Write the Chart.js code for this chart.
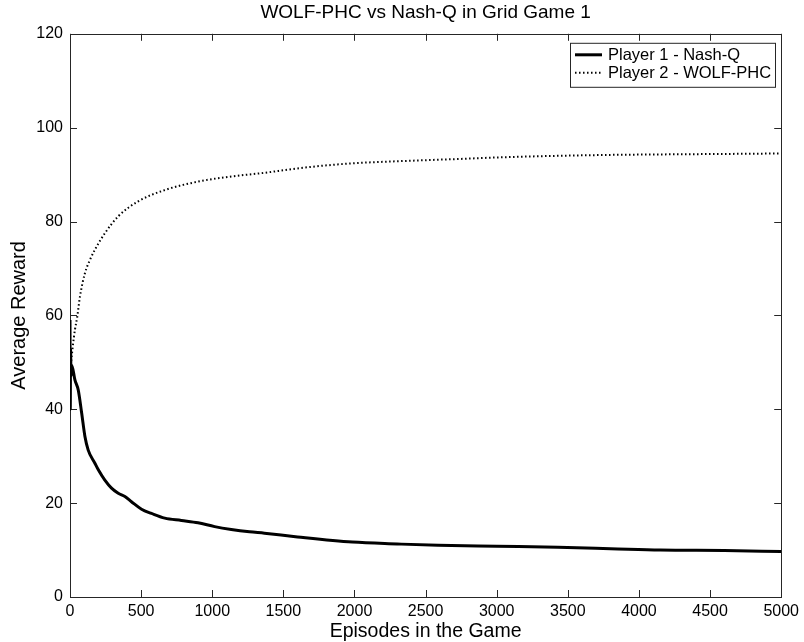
<!DOCTYPE html>
<html lang="en">
<head>
<meta charset="UTF-8">
<title>WOLF-PHC vs Nash-Q</title>
<script src="https://cdn.jsdelivr.net/npm/chart.js@4.4.1/dist/chart.umd.min.js"></script>
<style>
  html, body { margin: 0; padding: 0; background: #fff; }
  #wrap { width: 804px; height: 642px; }
</style>
</head>
<body>
<div id="wrap"><canvas id="c"></canvas></div>
<script>
// values
const nashEpisodes = [0, 2, 4, 7, 12, 35, 58, 82, 105, 128, 175, 199, 245, 292, 339, 386, 432, 503, 573, 666, 783, 900, 1017, 1134, 1262, 1367, 1600, 1985, 2300, 2588, 3000, 3430, 3800, 4150, 4600, 5000];
const nashReward   = [59, 40, 53, 47, 49.4, 46.2, 44.1, 39.2, 34.2, 31.3, 28.5, 27.1, 24.9, 23.2, 22.1, 21.4, 20.3, 18.7, 17.8, 16.8, 16.3, 15.8, 15.0, 14.4, 13.9, 13.6, 12.8, 11.7, 11.3, 11.0, 10.8, 10.6, 10.3, 10.0, 9.9, 9.7];

const wolfEpisodes = [0, 3, 8, 20, 35, 50, 70, 105, 140, 175, 245, 339, 479, 666, 900, 1134, 1344, 1650, 1985, 2350, 2707, 3050, 3430, 3800, 4150, 4600, 5000];
const wolfReward   = [46, 48, 50, 53.5, 57, 59.5, 64, 69, 71.8, 74, 77.5, 81.1, 84.3, 86.7, 88.5, 89.6, 90.3, 91.5, 92.4, 92.9, 93.3, 93.7, 94.0, 94.2, 94.3, 94.4, 94.5];

const seriesNames = ['Player 1 - Nash-Q', 'Player 2 - WOLF-PHC'];
const xTicks = [0, 500, 1000, 1500, 2000, 2500, 3000, 3500, 4000, 4500, 5000];
const yTicks = [0, 20, 40, 60, 80, 100, 120];

const FONT = "'Liberation Sans', Arial, Helvetica, sans-serif";
const AXIS = '#262626';

// box round the axes with inward ticks on all four sides, MATLAB style
const frame = {
  id: 'frame',
  beforeDatasetsDraw(chart) {
    const { ctx, chartArea: a, scales: { x, y } } = chart;
    const len = 7;
    ctx.save();
    ctx.strokeStyle = AXIS;
    ctx.lineWidth = 1;
    ctx.beginPath();
    xTicks.forEach(v => {
      const px = Math.round(x.getPixelForValue(v)) + 0.5;
      ctx.moveTo(px, a.bottom); ctx.lineTo(px, a.bottom - len);
      ctx.moveTo(px, a.top); ctx.lineTo(px, a.top + len);
    });
    yTicks.forEach(v => {
      const py = Math.round(y.getPixelForValue(v)) + 0.5;
      ctx.moveTo(a.left, py); ctx.lineTo(a.left + len, py);
      ctx.moveTo(a.right, py); ctx.lineTo(a.right - len, py);
    });
    ctx.stroke();
    ctx.strokeRect(Math.round(a.left) + 0.5, Math.round(a.top) + 0.5,
                   Math.round(a.right - a.left), Math.round(a.bottom - a.top));
    ctx.restore();
  }
};

// legend box inside the top right corner
const boxLegend = {
  id: 'boxLegend',
  afterDraw(chart) {
    const { ctx, chartArea: a } = chart;
    ctx.save();
    ctx.font = '16.5px ' + FONT;
    const tw = Math.max(...chart.data.datasets.map(d => ctx.measureText(d.label).width));
    const right = a.right - 6, top = a.top + 9;
    const textX = right - 4 - tw;
    const left = textX - 38;
    ctx.fillStyle = '#fff';
    ctx.fillRect(left, top, right - left, 44);
    ctx.strokeStyle = AXIS;
    ctx.lineWidth = 1;
    ctx.strokeRect(Math.round(left) + 0.5, top + 0.5, Math.round(right - left), 44);
    chart.data.datasets.forEach((d, i) => {
      const ly = top + 12 + i * 18;
      ctx.beginPath();
      ctx.strokeStyle = d.borderColor;
      ctx.lineWidth = d.borderWidth;
      ctx.setLineDash(d.borderDash || []);
      ctx.moveTo(left + 5, ly);
      ctx.lineTo(left + 32, ly);
      ctx.stroke();
      ctx.setLineDash([]);
      ctx.fillStyle = '#000';
      ctx.textBaseline = 'middle';
      ctx.fillText(d.label, textX, ly + 1);
    });
    ctx.restore();
  }
};

new Chart(document.getElementById('c'), {
  type: 'line',
  data: {
    datasets: [
      {
        label: seriesNames[0],
        data: nashEpisodes.map((e, i) => ({ x: e, y: nashReward[i] })),
        borderColor: '#000',
        borderWidth: 3,
        pointRadius: 0,
        cubicInterpolationMode: 'monotone'
      },
      {
        label: seriesNames[1],
        data: wolfEpisodes.map((e, i) => ({ x: e, y: wolfReward[i] })),
        borderColor: '#000',
        borderWidth: 2,
        borderDash: [1.5, 2.5],
        pointRadius: 0,
        cubicInterpolationMode: 'monotone'
      }
    ]
  },
  options: {
    responsive: true,
    maintainAspectRatio: false,
    animation: false,
    layout: { padding: { left: 0, right: 21, top: 0, bottom: 0 } },
    plugins: {
      legend: { display: false },
      tooltip: { enabled: false },
      title: {
        display: true,
        fullSize: false,
        text: 'WOLF-PHC vs Nash-Q in Grid Game 1',
        color: '#000',
        font: { family: FONT, size: 19, weight: 'normal' },
        padding: { top: 1, bottom: 10 }
      }
    },
    scales: {
      x: {
        type: 'linear',
        min: 0, max: 5000,
        afterBuildTicks: s => { s.ticks = xTicks.map(v => ({ value: v })); },
        afterFit: s => { s.height = 45; },
        grid: { display: false, drawTicks: false },
        border: { display: false },
        ticks: { color: '#000', padding: 5, maxRotation: 0, callback: v => String(v), font: { family: FONT, size: 16 } },
        title: {
          display: true,
          text: 'Episodes in the Game',
          color: '#000',
          font: { family: FONT, size: 19.5 },
          padding: { top: 0, bottom: -1 }
        }
      },
      y: {
        min: 0, max: 120,
        afterBuildTicks: s => { s.ticks = yTicks.map(v => ({ value: v })); },
        afterFit: s => { s.width = 70; },
        grid: { display: false, drawTicks: false },
        border: { display: false },
        ticks: { color: '#000', padding: 7, callback: v => String(v), font: { family: FONT, size: 16 } },
        title: {
          display: true,
          text: 'Average Reward',
          color: '#000',
          font: { family: FONT, size: 20 },
          padding: { top: 7, bottom: 0 }
        }
      }
    }
  },
  plugins: [frame, boxLegend]
});
</script>
</body>
</html>
